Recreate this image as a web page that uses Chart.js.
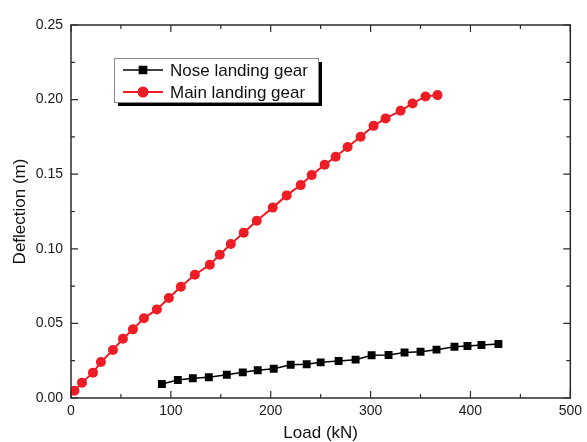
<!DOCTYPE html>
<html>
<head>
<meta charset="utf-8">
<title>Deflection vs Load</title>
<script src="https://cdn.jsdelivr.net/npm/chart.js@4.4.1/dist/chart.umd.min.js"></script>
<style>
    html, body { margin: 0; padding: 0; background: #fff; }
    #wrap { width: 587px; height: 442px; position: relative; }
</style>
</head>
<body>
<div id="wrap"><canvas id="deflection-chart" width="587" height="442"></canvas></div>
<script>
// Landing gear deflection vs vertical load

// ==================== DATA ====================
const seriesNames = ['Nose landing gear', 'Main landing gear'];

const noseLoad = [91, 107, 122, 138, 156, 172, 187, 203, 220, 236, 250, 268, 285, 301, 318, 334, 350, 366, 384, 397, 411, 428];
const noseDefl = [0.0094, 0.0121, 0.0132, 0.0139, 0.0156, 0.0172, 0.0186, 0.0196, 0.0223, 0.0226, 0.0239, 0.0248, 0.0257, 0.0286, 0.0288, 0.0305, 0.0310, 0.0324, 0.0344, 0.0348, 0.0355, 0.0362];

const mainLoad = [3.5, 11, 22, 30, 42, 52, 62, 73, 86, 98, 110, 124, 139, 149, 160, 173, 186, 202, 216, 230, 241, 254, 265, 277, 290, 303, 315, 330, 342, 355, 367];
const mainDefl = [0.0048, 0.0103, 0.0170, 0.0241, 0.0322, 0.0397, 0.0460, 0.0534, 0.0594, 0.0670, 0.0746, 0.0826, 0.0893, 0.0960, 0.1032, 0.1108, 0.1188, 0.1276, 0.1358, 0.1427, 0.1494, 0.1563, 0.1617, 0.1682, 0.1751, 0.1824, 0.1874, 0.1925, 0.1974, 0.2021, 0.2030];

const xTicks = [0, 100, 200, 300, 400, 500];
const yTicks = [0, 0.05, 0.10, 0.15, 0.20, 0.25];

const FONT = 'Liberation Sans, Arial, sans-serif';
const AXIS_COLOR = '#2b2b2b';

function toPoints(xs, ys) { return xs.map((x, i) => ({ x: x, y: ys[i] })); }

// ==================== PLUGINS ====================
// Closed frame with inward major/minor ticks on all four sides
const frameTicks = {
    id: 'frameTicks',
    afterDatasetsDraw(chart) {
        const { ctx, chartArea: a, scales: { x, y } } = chart;
        ctx.save();
        ctx.strokeStyle = AXIS_COLOR;
        ctx.lineWidth = 1.5;
        ctx.strokeRect(a.left, a.top, a.right - a.left, a.bottom - a.top);
        ctx.lineWidth = 1.2;
        ctx.beginPath();
        for (let v = 0; v <= 500; v += 50) {
            const px = x.getPixelForValue(v);
            const len = v % 100 === 0 ? 7 : 4;
            ctx.moveTo(px, a.bottom); ctx.lineTo(px, a.bottom - len);
            ctx.moveTo(px, a.top); ctx.lineTo(px, a.top + len);
        }
        for (let i = 0; i <= 10; i++) {
            const py = y.getPixelForValue(i * 0.025);
            const len = i % 2 === 0 ? 7 : 4;
            ctx.moveTo(a.left, py); ctx.lineTo(a.left + len, py);
            ctx.moveTo(a.right, py); ctx.lineTo(a.right - len, py);
        }
        ctx.stroke();
        ctx.restore();
    }
};

// Boxed legend with a drop shadow, drawn inside the plot
const boxLegend = {
    id: 'boxLegend',
    afterDraw(chart) {
        const ctx = chart.ctx;
        const left = 114, top = 58, w = 204, h = 44, rowH = 22;
        ctx.save();
        ctx.fillStyle = '#000';
        ctx.fillRect(left + 4, top + 4, w, h);
        ctx.fillStyle = '#fff';
        ctx.fillRect(left, top, w, h);
        ctx.strokeStyle = '#8a8a8a';
        ctx.lineWidth = 1;
        ctx.strokeRect(left + 0.5, top + 0.5, w, h);
        chart.data.datasets.forEach((ds, i) => {
            const cy = top + 12 + i * rowH;
            ctx.strokeStyle = ds.borderColor;
            ctx.lineWidth = ds.borderWidth;
            ctx.beginPath();
            ctx.moveTo(left + 9, cy); ctx.lineTo(left + 49, cy);
            ctx.stroke();
            ctx.fillStyle = ds.pointBackgroundColor;
            ctx.strokeStyle = ds.pointBorderColor;
            Chart.helpers.drawPoint(ctx, { pointStyle: ds.pointStyle, radius: ds.pointRadius - 0.5, rotation: 0, borderWidth: 1 }, left + 29, cy);
            ctx.fillStyle = '#111';
            ctx.font = '17px ' + FONT;
            ctx.textBaseline = 'middle';
            ctx.fillText(ds.label, left + 56, cy + 1);
        });
        ctx.restore();
    }
};

// ==================== CHART ====================
const ctx = document.getElementById('deflection-chart');
new Chart(ctx, {
    type: 'scatter',
    data: {
        datasets: [
            { label: seriesNames[0], data: toPoints(noseLoad, noseDefl), showLine: true, borderColor: '#000', borderWidth: 1.5, pointStyle: 'rect', pointRadius: 5.6, pointBackgroundColor: '#000', pointBorderColor: '#000', pointBorderWidth: 0 },
            { label: seriesNames[1], data: toPoints(mainLoad, mainDefl), showLine: true, borderColor: '#ee1c25', borderWidth: 2, pointStyle: 'circle', pointRadius: 5, pointBackgroundColor: '#ee1c25', pointBorderColor: '#ee1c25', pointBorderWidth: 0 }
        ]
    },
    options: {
        responsive: false,
        animation: false,
        layout: { padding: { left: 0, top: 25, right: 14, bottom: 0 } },
        plugins: { legend: { display: false }, tooltip: { enabled: false } },
        scales: {
            x: {
                type: 'linear', min: 0, max: 500,
                afterBuildTicks: s => { s.ticks = xTicks.map(v => ({ value: v })); },
                afterFit: s => { s.height = 44; },
                grid: { display: false, drawTicks: false }, border: { display: false },
                ticks: { color: '#1a1a1a', font: { family: FONT, size: 14 }, padding: 5, maxRotation: 0 },
                title: { display: true, text: 'Load (kN)', color: '#111', font: { family: FONT, size: 17, lineHeight: 1 }, padding: { top: 0, bottom: 0 } }
            },
            y: {
                type: 'linear', min: 0, max: 0.25,
                afterBuildTicks: s => { s.ticks = yTicks.map(v => ({ value: v })); },
                afterFit: s => { s.width = 71; },
                grid: { display: false, drawTicks: false }, border: { display: false },
                ticks: { color: '#1a1a1a', font: { family: FONT, size: 14 }, padding: 8, callback: v => v.toFixed(2) },
                title: { display: true, text: 'Deflection (m)', color: '#111', font: { family: FONT, size: 17 }, padding: { top: 10, bottom: 0 } }
            }
        }
    },
    plugins: [frameTicks, boxLegend]
});
</script>
</body>
</html>
